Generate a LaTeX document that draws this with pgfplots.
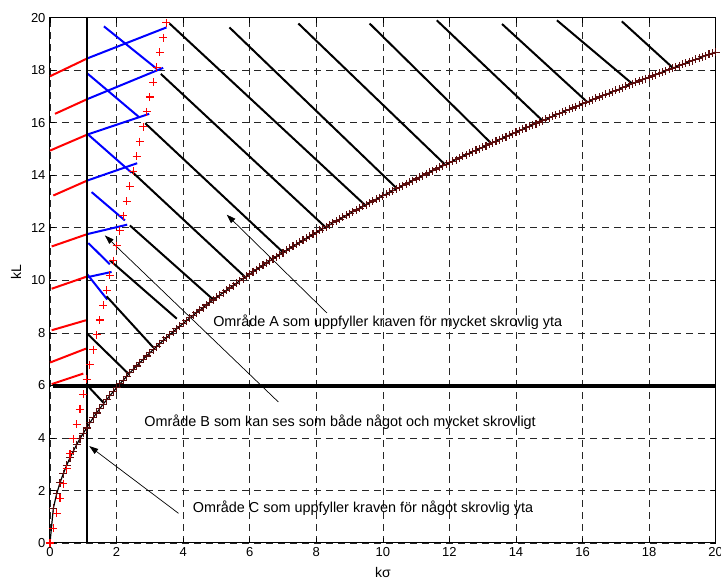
\documentclass[border=0pt]{standalone}
\usepackage{pgfplots}
\pgfplotsset{compat=1.18}
\usepackage{fontspec}
\setmainfont{Liberation Sans}
\usetikzlibrary{arrows.meta}
\definecolor{maroon}{rgb}{0.36,0.05,0.05}
\begin{document}
\begin{tikzpicture}
\begin{axis}[
  scale only axis, width=665.7pt, height=525.3pt,
  xmin=0, xmax=20, ymin=0, ymax=20,
  xtick={0,2,...,20}, ytick={0,2,...,20},
  tick align=inside, major tick length=5pt,
  tick style={black, line width=0.7pt},
  axis line style={black, line width=1pt},
  grid=major,
  major grid style={black!85, line width=0.7pt, dash pattern=on 7pt off 5pt},
  /pgf/number format/assume math mode=true,
  tick label style={font=\fontsize{13}{13}\selectfont},
  xticklabel style={yshift=-1pt},
  yticklabel style={xshift=-1pt},
  clip=false,
]
\coordinate (O) at (rel axis cs:0,0);
% red hatch segments
\addplot[red, line width=2pt] coordinates {(0,17.77) (1.12,18.45)};
\addplot[red, line width=2pt] coordinates {(0.15,16.34) (1.12,16.9)};
\addplot[red, line width=2pt] coordinates {(0,14.94) (1.12,15.55)};
\addplot[red, line width=2pt] coordinates {(0.1,13.23) (1.12,13.8)};
\addplot[red, line width=2pt] coordinates {(0.05,11.29) (1.12,11.76)};
\addplot[red, line width=2pt] coordinates {(0.05,9.68) (1.12,10.15)};
\addplot[red, line width=2pt] coordinates {(0.05,8.1) (1.08,8.48)};
\addplot[red, line width=2pt] coordinates {(0,6.87) (1.08,7.4)};
\addplot[red, line width=2pt] coordinates {(0.05,6.05) (1.0,6.45)};
% blue rising segments
\addplot[blue, line width=2pt] coordinates {(1.12,18.45) (3.5,19.63)};
\addplot[blue, line width=2pt] coordinates {(1.12,16.9) (3.4,18.09)};
\addplot[blue, line width=2pt] coordinates {(1.12,15.55) (2.98,16.34)};
\addplot[blue, line width=2pt] coordinates {(1.12,13.8) (2.62,14.46)};
\addplot[blue, line width=2pt] coordinates {(1.12,11.76) (2.32,12.12)};
\addplot[blue, line width=2pt] coordinates {(1.12,10.12) (1.85,10.32)};
% blue falling segments
\addplot[blue, line width=2pt] coordinates {(1.62,19.67) (3.21,18.05)};
\addplot[blue, line width=2pt] coordinates {(1.12,17.88) (2.68,16.21)};
\addplot[blue, line width=2pt] coordinates {(1.12,15.58) (2.45,14.1)};
\addplot[blue, line width=2pt] coordinates {(1.25,13.36) (2.25,12.28)};
\addplot[blue, line width=2pt] coordinates {(1.15,11.42) (1.8,10.61)};
\addplot[blue, line width=2pt] coordinates {(1.12,10.23) (1.72,9.27)};
% black falling segments
\addplot[black, line width=2pt] coordinates {(3.33,17.86) (8.28,12.02)};
\addplot[black, line width=2pt] coordinates {(2.86,15.98) (7.0,11.07)};
\addplot[black, line width=2pt] coordinates {(2.45,14.15) (5.86,10.13)};
\addplot[black, line width=2pt] coordinates {(2.4,12.09) (4.91,9.26)};
\addplot[black, line width=2pt] coordinates {(1.8,10.76) (3.81,8.54)};
\addplot[black, line width=2pt] coordinates {(1.7,9.39) (3.1,7.45)};
\addplot[black, line width=2pt] coordinates {(1.12,7.97) (2.35,6.45)};
\addplot[black, line width=2pt] coordinates {(1.12,6.0) (1.6,5.35)};
\addplot[black, line width=2pt] coordinates {(3.59,19.78) (9.47,12.86)};
\addplot[black, line width=2pt] coordinates {(5.39,19.63) (10.42,13.5)};
\addplot[black, line width=2pt] coordinates {(7.46,19.78) (11.85,14.43)};
\addplot[black, line width=2pt] coordinates {(9.6,19.78) (13.23,15.25)};
\addplot[black, line width=2pt] coordinates {(11.62,19.9) (14.78,16.1)};
\addplot[black, line width=2pt] coordinates {(13.58,19.76) (16.13,16.8)};
\addplot[black, line width=2pt] coordinates {(15.23,19.9) (17.48,17.5)};
\addplot[black, line width=2pt] coordinates {(17.18,19.86) (18.73,18.07)};
% vertical and horizontal limits
\addplot[black, line width=2pt] coordinates {(1.12,0) (1.12,20)};
\addplot[black, line width=4pt] coordinates {(0.08,5.97) (20,5.97)};
% black curve
\addplot[black, line width=1.2pt, mark=+, mark size=4pt, mark options={draw=maroon, line width=1.1pt}] table {
x y
0 0
0.1 1.32
0.2 1.87
0.3 2.29
0.4 2.64
0.5 2.96
0.6 3.24
0.7 3.50
0.8 3.74
0.9 3.97
1.0 4.18
1.1 4.38
1.2 4.58
1.3 4.77
1.4 4.95
1.5 5.12
1.6 5.29
1.7 5.45
1.8 5.61
1.9 5.76
2.0 5.91
2.1 6.06
2.2 6.20
2.3 6.34
2.4 6.48
2.5 6.61
2.6 6.74
2.7 6.87
2.8 6.99
2.9 7.12
3.0 7.24
3.1 7.36
3.2 7.48
3.3 7.59
3.4 7.71
3.5 7.82
3.6 7.93
3.7 8.04
3.8 8.15
3.9 8.25
4.0 8.36
4.1 8.46
4.2 8.57
4.3 8.67
4.4 8.77
4.5 8.87
4.6 8.96
4.7 9.06
4.8 9.16
4.9 9.25
5.0 9.35
5.1 9.44
5.2 9.53
5.3 9.62
5.4 9.71
5.5 9.80
5.6 9.89
5.7 9.98
5.8 10.07
5.9 10.15
6.0 10.24
6.1 10.32
6.2 10.41
6.3 10.49
6.4 10.57
6.5 10.66
6.6 10.74
6.7 10.82
6.8 10.90
6.9 10.98
7.0 11.06
7.1 11.14
7.2 11.22
7.3 11.29
7.4 11.37
7.5 11.45
7.6 11.52
7.7 11.60
7.8 11.67
7.9 11.75
8.0 11.82
8.1 11.90
8.2 11.97
8.3 12.04
8.4 12.11
8.5 12.19
8.6 12.26
8.7 12.33
8.8 12.40
8.9 12.47
9.0 12.54
9.1 12.61
9.2 12.68
9.3 12.75
9.4 12.82
9.5 12.88
9.6 12.95
9.7 13.02
9.8 13.09
9.9 13.15
10.0 13.22
10.1 13.28
10.2 13.35
10.3 13.41
10.4 13.48
10.5 13.54
10.6 13.61
10.7 13.67
10.8 13.74
10.9 13.80
11.0 13.86
11.1 13.93
11.2 13.99
11.3 14.05
11.4 14.11
11.5 14.17
11.6 14.24
11.7 14.30
11.8 14.36
11.9 14.42
12.0 14.48
12.1 14.54
12.2 14.60
12.3 14.66
12.4 14.72
12.5 14.78
12.6 14.84
12.7 14.90
12.8 14.95
12.9 15.01
13.0 15.07
13.1 15.13
13.2 15.19
13.3 15.24
13.4 15.30
13.5 15.36
13.6 15.41
13.7 15.47
13.8 15.53
13.9 15.58
14.0 15.64
14.1 15.70
14.2 15.75
14.3 15.81
14.4 15.86
14.5 15.92
14.6 15.97
14.7 16.03
14.8 16.08
14.9 16.13
15.0 16.19
15.1 16.24
15.2 16.30
15.3 16.35
15.4 16.40
15.5 16.46
15.6 16.51
15.7 16.56
15.8 16.61
15.9 16.67
16.0 16.72
16.1 16.77
16.2 16.82
16.3 16.88
16.4 16.93
16.5 16.98
16.6 17.03
16.7 17.08
16.8 17.13
16.9 17.18
17.0 17.23
17.1 17.28
17.2 17.34
17.3 17.39
17.4 17.44
17.5 17.49
17.6 17.54
17.7 17.59
17.8 17.64
17.9 17.68
18.0 17.73
18.1 17.78
18.2 17.83
18.3 17.88
18.4 17.93
18.5 17.98
18.6 18.03
18.7 18.08
18.8 18.12
18.9 18.17
19.0 18.22
19.1 18.27
19.2 18.32
19.3 18.36
19.4 18.41
19.5 18.46
19.6 18.51
19.7 18.55
19.8 18.60
19.9 18.65
20.0 18.69
};
% red markers
\addplot[only marks, mark=+, mark size=4pt, mark options={draw=red, line width=1.1pt}] table {
x y
0 0
0.1 0.566
0.2 1.132
0.3 1.698
0.4 2.264
0.5 2.83
0.6 3.396
0.7 3.962
0.8 4.528
0.9 5.094
1.0 5.66
1.1 6.226
1.2 6.792
1.3 7.358
1.4 7.924
1.5 8.49
1.6 9.056
1.7 9.622
1.8 10.188
1.9 10.754
2.0 11.32
2.1 11.886
2.2 12.452
2.3 13.018
2.4 13.584
2.5 14.15
2.6 14.716
2.7 15.282
2.8 15.848
2.9 16.414
3.0 16.98
3.1 17.546
3.2 18.112
3.3 18.678
3.4 19.244
3.5 19.81
};
% annotations
\draw[black, line width=0.7pt, -{Triangle[length=9pt,width=6pt]}] (axis cs:8.32,8.76) -- (axis cs:5.31,12.5);
\draw[black, line width=0.7pt, -{Triangle[length=9pt,width=6pt]}] (axis cs:6.86,5.37) -- (axis cs:1.65,11.71);
\draw[black, line width=0.7pt, -{Triangle[length=9pt,width=6pt]}] (axis cs:3.86,1.13) -- (axis cs:1.18,3.69);
\node[anchor=west, inner sep=0pt, font=\fontsize{14.4}{14.4}\selectfont] at (axis cs:4.9,8.41) {Område A som uppfyller kraven för mycket skrovlig yta};
\node[anchor=west, inner sep=0pt, font=\fontsize{14.4}{14.4}\selectfont] at (axis cs:2.83,4.59) {Område B som kan ses som både något och mycket skrovligt};
\node[anchor=west, inner sep=0pt, font=\fontsize{14.4}{14.4}\selectfont] at (axis cs:4.29,1.32) {Område C som uppfyller kraven för något skrovlig yta};
\node[inner sep=0pt, font=\fontsize{14}{14}\selectfont] at ([yshift=-29pt]rel axis cs:0.5,0) {kσ};
\node[inner sep=0pt, rotate=90, font=\fontsize{14}{14}\selectfont] at ([xshift=-34pt]rel axis cs:0,0.515) {kL};
\end{axis}
\pgfresetboundingbox
\path[use as bounding box] ([shift={(-50pt,-38pt)}]O) rectangle ++(721pt,581pt);
\end{tikzpicture}
\end{document}
